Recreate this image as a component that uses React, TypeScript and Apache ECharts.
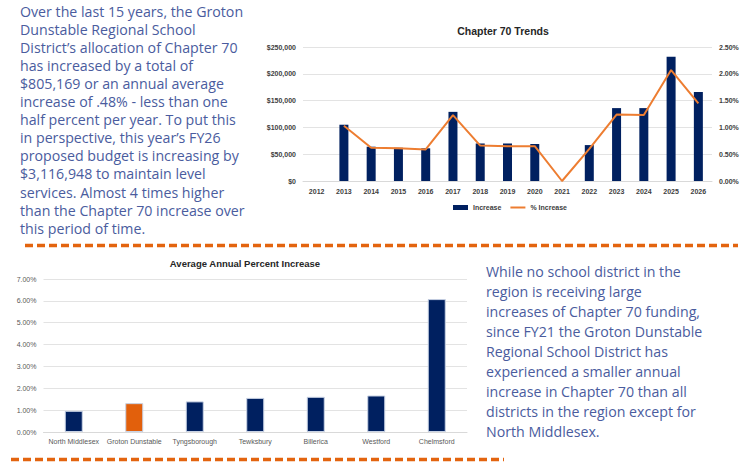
import React, { useEffect, useRef } from "react";
import * as echarts from "echarts";

const years = ["2012", "2013", "2014", "2015", "2016", "2017", "2018", "2019", "2020", "2021", "2022", "2023", "2024", "2025", "2026"];
const increase = [0, 105000, 64000, 62000, 61000, 129000, 70000, 70000, 69000, 0, 67000, 136000, 136000, 232000, 166000];
const pctIncrease = [null, 1.03, 0.62, 0.61, 0.59, 1.23, 0.66, 0.65, 0.65, 0, 0.6, 1.24, 1.23, 2.07, 1.45];

const districts = ["North Middlesex", "Groton Dunstable", "Tyngsborough", "Tewksbury", "Billerica", "Westford", "Chelmsford"];
const avgPct = [0.97, 1.32, 1.4, 1.56, 1.61, 1.67, 6.08];
const highlightDistrict = "Groton Dunstable";

const leftText = [
  "Over the last 15 years, the Groton",
  "Dunstable Regional School",
  "District’s allocation of Chapter 70",
  "has increased by a total of",
  "$805,169 or an annual average",
  "increase of .48% - less than one",
  "half percent per year. To put this",
  "in perspective, this year’s FY26",
  "proposed budget is increasing by",
  "$3,116,948 to maintain level",
  "services. Almost 4 times higher",
  "than the Chapter 70 increase over",
  "this period of time.",
];
const rightText = [
  "While no school district in the",
  "region is receiving large",
  "increases of Chapter 70 funding,",
  "since FY21 the Groton Dunstable",
  "Regional School District has",
  "experienced a smaller annual",
  "increase in Chapter 70 than all",
  "districts in the region except for",
  "North Middlesex.",
];

const NAVY = "#002060";
const ORANGE = "#ED7D31";
const DASH = "#E3640F";
const TEXTBLUE = "#4A5C9E";
const PARA_FONT = "Open Sans";

export default function App() {
  const ref = useRef<HTMLDivElement>(null);
  useEffect(() => {
    if (!ref.current) return;
    const chart = echarts.init(ref.current, null, { renderer: "svg" });
    const graphics: any[] = [];
    leftText.forEach((t, i) => {
      graphics.push({
        type: "text",
        x: 20,
        y: 11 + i * 18.1,
        style: { text: t, fill: TEXTBLUE, font: `14.2px "${PARA_FONT}"`, textVerticalAlign: "middle" },
      });
    });
    rightText.forEach((t, i) => {
      graphics.push({
        type: "text",
        x: 486,
        y: 271 + i * 20,
        style: { text: t, fill: TEXTBLUE, font: `14.2px "${PARA_FONT}"`, textVerticalAlign: "middle" },
      });
    });
    graphics.push({
      type: "line",
      shape: { x1: 25, y1: 245.5, x2: 738, y2: 245.5 },
      style: { stroke: DASH, lineWidth: 3.5, lineDash: [8, 4] },
    });
    graphics.push({
      type: "line",
      shape: { x1: 11, y1: 459.5, x2: 504, y2: 459.5 },
      style: { stroke: DASH, lineWidth: 3.5, lineDash: [8, 4] },
    });
    graphics.push({
      type: "text",
      x: 503,
      y: 31,
      style: { text: "Chapter 70 Trends", fill: "#262626", font: 'bold 10.5px "Liberation Sans"', textAlign: "center", textVerticalAlign: "middle" },
    });
    graphics.push({
      type: "text",
      x: 245,
      y: 263,
      style: { text: "Average Annual Percent Increase", fill: "#262626", font: 'bold 9.5px "Liberation Sans"', textAlign: "center", textVerticalAlign: "middle" },
    });

    const axisFontTop = { fontSize: 7, fontWeight: "bold" as const, color: "#404040", fontFamily: "Liberation Sans" };
    const axisFontBottom = { fontSize: 7, color: "#595959", fontFamily: "Liberation Sans" };
    const gridLine = { show: true, lineStyle: { color: "#e3e3e3", width: 1 } };

    chart.setOption({
      animation: false,
      backgroundColor: "#ffffff",
      graphic: graphics,
      legend: {
        data: [
          { name: "Increase", icon: "rect" },
          { name: "% Increase", icon: "path://M0,0 H15 V2 H0 Z" },
        ],
        left: 453,
        top: 204,
        padding: 0,
        itemWidth: 15,
        itemHeight: 5,
        itemGap: 9,
        textStyle: { fontSize: 7, fontWeight: "bold", color: "#404040", fontFamily: "Liberation Sans" },
      },
      grid: [
        { left: 303, right: 35, top: 47, bottom: 286 },
        { left: 43.5, right: 280, top: 279, bottom: 35 },
      ],
      xAxis: [
        {
          type: "category",
          gridIndex: 0,
          data: years,
          axisLine: { show: true, lineStyle: { color: "#d9d9d9" } },
          axisTick: { show: false },
          axisLabel: { ...axisFontTop, margin: 7 },
        },
        {
          type: "category",
          gridIndex: 1,
          data: districts,
          axisLine: { show: true, lineStyle: { color: "#d9d9d9" } },
          axisTick: { show: false },
          axisLabel: { ...axisFontBottom, margin: 6, interval: 0 },
        },
      ],
      yAxis: [
        {
          type: "value",
          gridIndex: 0,
          min: 0,
          max: 250000,
          interval: 50000,
          splitLine: gridLine,
          axisLabel: { ...axisFontTop, margin: 7, formatter: (v: number) => "$" + v.toLocaleString("en-US") },
        },
        {
          type: "value",
          gridIndex: 0,
          position: "right",
          min: 0,
          max: 2.5,
          interval: 0.5,
          splitLine: { show: false },
          axisLabel: { ...axisFontTop, margin: 7, formatter: (v: number) => v.toFixed(2) + "%" },
        },
        {
          type: "value",
          gridIndex: 1,
          min: 0,
          max: 7,
          interval: 1,
          splitLine: gridLine,
          axisLabel: { ...axisFontBottom, margin: 7, formatter: (v: number) => v.toFixed(2) + "%" },
        },
      ],
      series: [
        {
          name: "Increase",
          type: "bar",
          xAxisIndex: 0,
          yAxisIndex: 0,
          data: increase,
          barWidth: 9,
          itemStyle: { color: NAVY },
        },
        {
          name: "% Increase",
          type: "line",
          xAxisIndex: 0,
          yAxisIndex: 1,
          data: pctIncrease,
          symbol: "none",
          lineStyle: { color: ORANGE, width: 2 },
          itemStyle: { color: ORANGE },
        },
        {
          name: "Average Annual Percent Increase",
          type: "bar",
          xAxisIndex: 1,
          yAxisIndex: 2,
          barWidth: 18,
          data: avgPct.map((v, i) => ({
            value: v,
            itemStyle: { color: districts[i] === highlightDistrict ? "#E2600C" : NAVY },
          })),
          itemStyle: { borderColor: "#c8d2e4", borderWidth: 1 },
        },
      ],
    });
    return () => chart.dispose();
  }, []);
  return (
    <div
      ref={ref}
      style={{ position: "fixed", left: 0, top: 0, width: 747, height: 467, background: "#fff" }}
    />
  );
}
